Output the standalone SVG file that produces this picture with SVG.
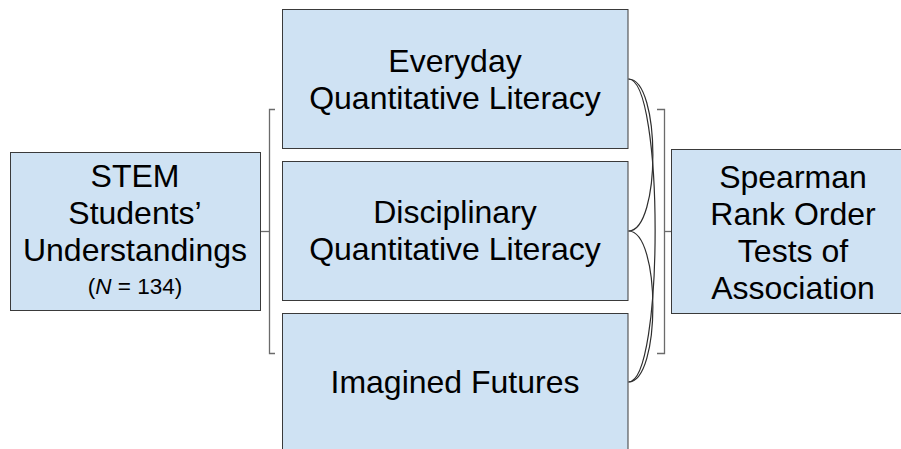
<svg xmlns="http://www.w3.org/2000/svg" width="901" height="449" viewBox="0 0 901 449">
  <style>
    .box { fill: #cfe2f3; stroke: #3a3a3a; stroke-width: 1; }
    .label { font-family: "Liberation Sans", Arial, sans-serif; font-size: 32px; fill: #000; text-anchor: middle; }
    .small { font-size: 22.5px; }
    .bracket { fill: none; stroke: #6b6b6b; stroke-width: 1.3; }
    .curve { fill: none; stroke: #2e2e2e; stroke-width: 1.2; }
  </style>
  <rect width="901" height="449" fill="#ffffff"/>

  <!-- connectors: brackets and curved links between the three measures -->
  <g id="connectors">
    <path class="bracket" d="M275,109.5 H269.5 V353.5 H275"/>
    <path class="bracket" d="M261,231.5 H269.5"/>
    <path class="bracket" d="M657,109.5 H664.5 V353.5 H657"/>
    <path class="bracket" d="M664.5,231.5 H671"/>
    <path class="curve" d="M628.5,79 C661,79 661,231 628.5,231"/>
    <path class="curve" d="M628.5,79 C664,79 664,382 628.5,382"/>
    <path class="curve" d="M628.5,231 C661,231 661,382 628.5,382"/>
  </g>

  <g id="stem-students">
    <rect class="box" x="10.5" y="152.5" width="250" height="158"/>
    <text class="label" x="135" y="187">STEM</text>
    <text class="label" x="135" y="224">Students’</text>
    <text class="label" x="135" y="261">Understandings</text>
    <text class="label small" x="135" y="294">(<tspan font-style="italic">N</tspan> = 134)</text>
  </g>

  <g id="everyday-ql">
    <rect class="box" x="282.5" y="9.5" width="345.5" height="139"/>
    <text class="label" x="455" y="72">Everyday</text>
    <text class="label" x="455" y="109">Quantitative Literacy</text>
  </g>

  <g id="disciplinary-ql">
    <rect class="box" x="282.5" y="161.5" width="345.5" height="139"/>
    <text class="label" x="455" y="222.5">Disciplinary</text>
    <text class="label" x="455" y="259.5">Quantitative Literacy</text>
  </g>

  <g id="imagined-futures">
    <rect class="box" x="282.5" y="313.5" width="345.5" height="139"/>
    <text class="label" x="455" y="393">Imagined Futures</text>
  </g>

  <g id="spearman">
    <rect class="box" x="671.5" y="149.5" width="245" height="164"/>
    <text class="label" x="793" y="188">Spearman</text>
    <text class="label" x="793" y="225">Rank Order</text>
    <text class="label" x="793" y="262">Tests of</text>
    <text class="label" x="793" y="299">Association</text>
  </g>
</svg>
